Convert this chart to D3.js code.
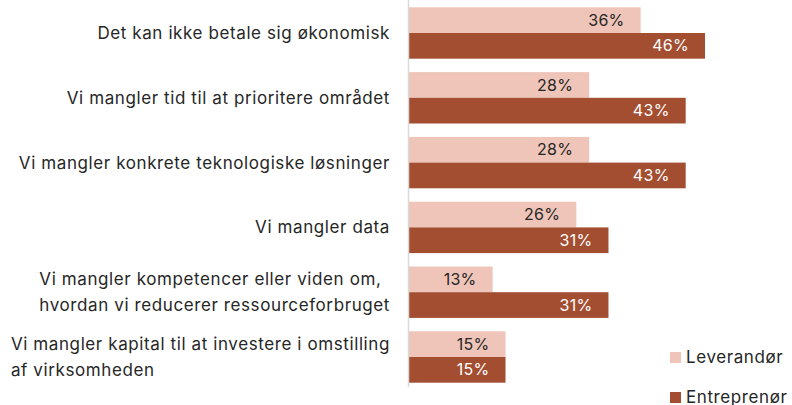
<!DOCTYPE html>
<html><head><meta charset="utf-8">
<script src="https://cdn.jsdelivr.net/npm/d3@7/dist/d3.min.js"></script>
<style>body{margin:0;background:#fff}svg{display:block}text{font-family:Inter,"Open Sans",sans-serif}</style>
</head><body><svg id="c" width="792" height="405"></svg>
<script>
const categories = [
  ["Det kan ikke betale sig økonomisk"],
  ["Vi mangler tid til at prioritere området"],
  ["Vi mangler konkrete teknologiske løsninger"],
  ["Vi mangler data"],
  ["Vi mangler kompetencer eller viden om,", "hvordan vi reducerer ressourceforbruget"],
  ["Vi mangler kapital til at investere i omstilling", "af virksomheden"]
];
const seriesNames = ["Leverandør", "Entreprenør"];
const leverandor = [36, 28, 28, 26, 13, 15];
const entreprenor = [46, 43, 43, 31, 31, 15];
const colors = ["#eec5b8", "#a44e31"];
const labelColors = ["#262626", "#ffffff"];

const svg = d3.select("#c");
const x0 = 409;
const x = d3.scaleLinear().domain([0, 46]).range([x0, 705]);
const keys = categories.map((d, i) => i);
const y = d3.scaleBand().domain(keys).range([0.6, 389.4]).paddingInner(0.207).paddingOuter(0.1035);
const ySub = d3.scaleBand().domain([0, 1]).range([0, y.bandwidth()]);
const series = [leverandor, entreprenor];

series.forEach((vals, s) => {
  const g = svg.append("g");
  g.selectAll("rect").data(vals).join("rect")
    .attr("x", x0).attr("y", (d, i) => y(i) + ySub(s))
    .attr("width", d => x(d) - x0).attr("height", ySub.bandwidth())
    .attr("fill", colors[s]);
  g.selectAll("text").data(vals).join("text")
    .attr("x", d => x(d) - 16).attr("y", (d, i) => y(i) + ySub(s) + ySub.bandwidth() / 2)
    .attr("dy", "0.35em").attr("text-anchor", "end")
    .attr("font-size", 16).attr("letter-spacing", 0.3).attr("fill", labelColors[s])
    .text(d => d + "%");
});

// axis line
svg.append("line").attr("x1", 408.5).attr("x2", 408.5).attr("y1", 0).attr("y2", 387)
  .attr("stroke", "#d9d9d9").attr("stroke-width", 1.5);

// category labels
const lineH = 26;
categories.forEach((lines, i) => {
  const cy = y(i) + y.bandwidth() / 2;
  const t = svg.append("text").attr("font-size", 17).attr("letter-spacing", 0.6).attr("fill", "#262626");
  const n = lines.length;
  lines.forEach((l, j) => {
    t.append("tspan").attr("y", cy + (j - (n - 1) / 2) * lineH).attr("dy", "0.35em").text(l);
  });
  const spans = t.selectAll("tspan").nodes();
  const w = d3.max(spans, s => s.getComputedTextLength());
  spans.forEach(s => s.setAttribute("x", 390 - w));
});

// legend
const lg = svg.append("g");
seriesNames.forEach((name, s) => {
  const ly = 357.5 + s * 40;
  lg.append("rect").attr("x", 670).attr("y", ly - 5.5).attr("width", 11).attr("height", 11).attr("fill", colors[s]);
  lg.append("text").attr("x", 686).attr("y", ly).attr("dy", "0.35em").attr("font-size", 17).attr("letter-spacing", 0.6).attr("fill", "#262626").text(name);
});
</script></body></html>
